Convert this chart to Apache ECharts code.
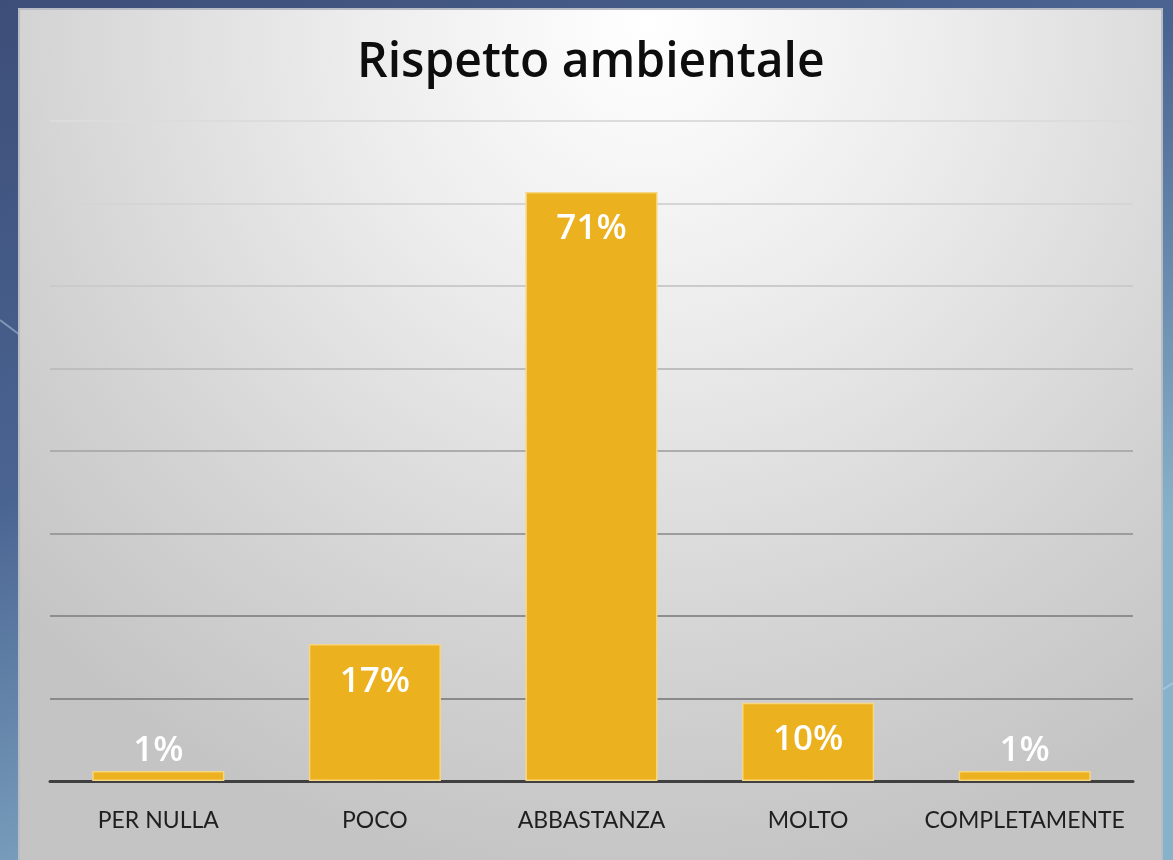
<!DOCTYPE html>
<html><head><meta charset="utf-8">
<script src="https://cdn.jsdelivr.net/npm/echarts@6/dist/echarts.min.js"></script>
<style>html,body{margin:0;padding:0;}#c{width:1173px;height:860px;}</style>
</head><body><div id="c"></div>
<script>
const titleText = 'Rispetto ambientale';
const categories = ['PER NULLA', 'POCO', 'ABBASTANZA', 'MOLTO', 'COMPLETAMENTE'];
const values = [1.2, 16.6, 71.4, 9.5, 1.2];
const yTicks = [0, 10, 20, 30, 40, 50, 60, 70, 80];

const chart = echarts.init(document.getElementById('c'));
const gridColors = ['#8a8a8a', '#8a8a8a', '#8e8e8e', '#9c9c9c', '#adadad', '#bebebe', '#cbcbcb', '#d5d5d5', '#dcdcdc'];

chart.setOption({
  backgroundColor: new echarts.graphic.LinearGradient(0, 0, 0.3, 1, [
    { offset: 0, color: '#3d4e78' },
    { offset: 0.5, color: '#4a6492' },
    { offset: 1, color: '#88b2ca' }
  ]),
  animation: false,
  graphic: [
    { type: 'line', shape: { x1: 0, y1: 320, x2: 20, y2: 335 }, style: { stroke: 'rgba(200,220,240,0.45)', lineWidth: 2 }, z: 0 },
    { type: 'line', shape: { x1: 1162, y1: 690, x2: 1173, y2: 683 }, style: { stroke: 'rgba(200,220,240,0.45)', lineWidth: 2 }, z: 0 },
    {
      type: 'rect', z: 0, silent: true,
      shape: { x: 19, y: 9, width: 1143, height: 860 },
      style: {
        fill: new echarts.graphic.RadialGradient(0.55, 0.02, 1.0, [
          { offset: 0, color: '#ffffff' },
          { offset: 0.35, color: '#ececec' },
          { offset: 0.75, color: '#d2d2d2' },
          { offset: 1, color: '#c4c4c4' }
        ]),
        stroke: '#b8bcc4', lineWidth: 2
      }
    }
  ],
  title: {
    text: titleText,
    left: 352, top: 34,
    textStyle: { fontFamily: 'Open Sans', fontWeight: 600, fontSize: 48, color: '#0d0d0d' }
  },
  grid: { left: 50, right: 40, top: 121, bottom: 79, containLabel: false },
  xAxis: {
    type: 'category', data: categories,
    axisTick: { show: false },
    axisLine: { lineStyle: { color: '#404040', width: 3 } },
    axisLabel: { interval: 0, color: '#1f1f1f', fontFamily: 'Lato', fontSize: 23, margin: 28 }
  },
  yAxis: {
    type: 'value', min: 0, max: 80, interval: 10,
    axisLabel: { show: false },
    axisLine: { show: false }, axisTick: { show: false },
    splitLine: { lineStyle: { color: gridColors, width: 2 } }
  },
  series: [{
    type: 'bar',
    data: values.map(v => ({
      value: v,
      label: v < 5 ? { position: 'top', distance: 3 } : { position: 'insideTop', distance: 20 }
    })),
    barWidth: '61%',
    itemStyle: { color: '#ebb11f', borderColor: '#f6d680', borderWidth: 1.5 },
    label: {
      show: true, color: '#ffffff', fontFamily: 'Open Sans', fontWeight: 600, fontSize: 35,
      formatter: p => Math.round(p.value) + '%'
    },
    z: 2
  }]
});
</script></body></html>
